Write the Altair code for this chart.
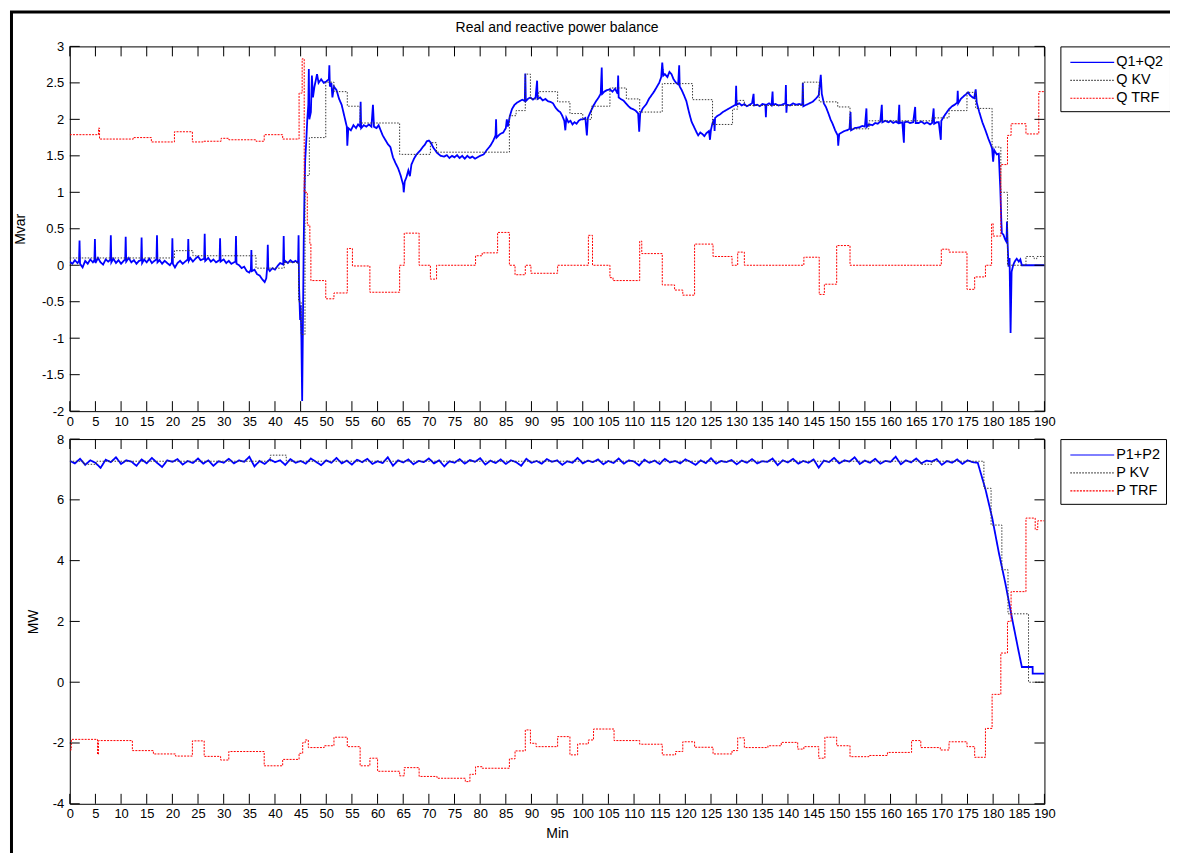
import altair as alt
import pandas as pd

FONT = "Liberation Sans"
W, H = 978, 366

X_TICKS = [0, 5, 10, 15, 20, 25, 30, 35, 40, 45, 50, 55, 60, 65, 70, 75, 80, 85, 90, 95,
           100, 105, 110, 115, 120, 125, 130, 135, 140, 145, 150, 155, 160, 165, 170, 175,
           180, 185, 190]
Q_TICKS = [-2, -1.5, -1, -0.5, 0, 0.5, 1, 1.5, 2, 2.5, 3]
P_TICKS = [-4, -2, 0, 2, 4, 6, 8]

Q_NAMES = ["Q1+Q2", "Q KV", "Q TRF"]
P_NAMES = ["P1+P2", "P KV", "P TRF"]
COLORS = ["#0000ff", "#3a3a3a", "#ff0000"]
DASHES = [[1, 0], [1.5, 1.5], [2, 1.2]]
WIDTHS = [1.8, 1.0, 1.0]

# ---- reactive power (Mvar) ----
Q_SUM = [
    (0, 0.05), (0.5, 0.02), (1.0, 0.07), (1.5, 0.03), (1.8, 0.06), (1.9, 0.34), (2.0, 0.02),
    (2.5, -0.03), (3.0, 0.06), (3.5, 0.02), (4.0, 0.08), (4.5, 0.04), (4.8, 0.07), (4.9, 0.36),
    (5.0, 0.03), (5.5, 0.10), (6.0, 0.04), (6.5, 0.01), (7.0, 0.08), (7.5, 0.05), (7.9, 0.08),
    (8.0, 0.41), (8.1, 0.04), (8.5, 0.09), (9.0, 0.03), (9.5, 0.07), (10.0, 0.02), (10.5, 0.06),
    (10.8, 0.08), (10.9, 0.39), (11.0, 0.05), (11.5, 0.10), (12.0, 0.04), (12.5, 0.07), (13.0, 0.02),
    (13.5, 0.06), (13.9, 0.07), (14.0, 0.38), (14.1, 0.03), (14.5, 0.08), (15.0, 0.04), (15.5, 0.09),
    (16.0, 0.03), (16.5, 0.06), (16.9, 0.08), (17.0, 0.41), (17.1, 0.04), (17.5, 0.07), (18.0, 0.02),
    (18.5, 0.06), (19.0, 0.03), (19.5, 0.0), (19.9, 0.04), (20.0, 0.37), (20.1, 0.02), (20.5, -0.03),
    (21.0, 0.03), (21.5, 0.06), (22.0, 0.02), (22.5, 0.05), (23.0, 0.08), (23.1, 0.36), (23.2, 0.06),
    (23.5, 0.10), (24.0, 0.05), (24.5, 0.09), (25.0, 0.12), (25.5, 0.07), (26.2, 0.09), (26.3, 0.43),
    (26.4, 0.06), (27.0, 0.10), (27.5, 0.05), (28.0, 0.08), (28.5, 0.04), (29.2, 0.07), (29.3, 0.37),
    (29.4, 0.05), (30.0, 0.08), (30.5, 0.03), (31.0, 0.06), (31.5, 0.02), (32.3, 0.05), (32.4, 0.40),
    (32.5, 0.02), (33.0, 0.0), (33.5, -0.04), (34.0, -0.02), (34.5, -0.08), (35.0, -0.10), (35.3, -0.06),
    (35.4, 0.21), (35.5, -0.08), (36.0, -0.06), (36.5, -0.12), (37.0, -0.14), (37.5, -0.19), (38.0, -0.23),
    (38.3, -0.18), (38.5, -0.02), (38.6, 0.28), (38.7, -0.05), (39.0, -0.08), (39.5, -0.04), (40.0, -0.06),
    (40.5, -0.01), (41.0, 0.03), (41.6, 0.01), (41.7, 0.40), (41.8, 0.03), (42.0, 0.06), (42.5, 0.03),
    (43.0, 0.07), (43.5, 0.04), (44.0, 0.06), (44.5, 0.03), (44.6, 0.41), (44.7, -0.30), (44.9, -0.75),
    (45.0, -0.55), (45.15, -1.0), (45.3, -1.86), (45.45, -0.8), (45.6, 0.3), (45.75, 1.0), (45.9, 1.45),
    (46.1, 1.7), (46.3, 2.0), (46.5, 2.2), (46.6, 2.69), (46.7, 2.0), (47.0, 2.1), (47.2, 2.6),
    (47.4, 2.3), (47.7, 2.45), (48.0, 2.55), (48.2, 2.62), (48.5, 2.5), (49.0, 2.55), (49.5, 2.5),
    (50.0, 2.52), (50.5, 2.55), (50.6, 2.74), (50.7, 2.45), (51.0, 2.5), (51.2, 2.3), (51.5, 2.45),
    (52.0, 2.4), (52.5, 2.28), (53.0, 2.2), (53.5, 2.05), (54.0, 1.9), (54.1, 1.64), (54.3, 1.88),
    (54.8, 1.85), (55.3, 1.92), (55.8, 1.88), (56.2, 1.93), (56.6, 1.9), (56.7, 2.24), (56.8, 1.88),
    (57.3, 1.92), (57.8, 1.9), (58.3, 1.93), (58.8, 1.9), (59.1, 2.2), (59.3, 1.9), (59.8, 1.88),
    (60.2, 1.92), (60.6, 1.85), (61.0, 1.78), (61.5, 1.72), (62.0, 1.66), (62.5, 1.62), (63.0, 1.48),
    (63.5, 1.4), (64.0, 1.33), (64.5, 1.23), (65.0, 1.1), (65.1, 1.0), (65.3, 1.15), (65.6, 1.2),
    (66.0, 1.3), (66.3, 1.22), (66.6, 1.38), (67.1, 1.46), (67.6, 1.52), (68.0, 1.55), (68.4, 1.58),
    (68.8, 1.62), (69.2, 1.65), (69.6, 1.7), (70.0, 1.71), (70.4, 1.68), (70.8, 1.62), (71.2, 1.58),
    (71.6, 1.54), (72.3, 1.5), (73.0, 1.49), (73.5, 1.51), (74.0, 1.47), (74.5, 1.5), (75.0, 1.48),
    (75.5, 1.51), (76.0, 1.47), (76.5, 1.5), (77.0, 1.46), (77.5, 1.5), (78.0, 1.47), (78.5, 1.49),
    (79.0, 1.46), (79.5, 1.48), (80.0, 1.5), (80.7, 1.52), (81.3, 1.58), (82.0, 1.64), (82.5, 1.7),
    (83.0, 1.78), (83.1, 2.0), (83.2, 1.75), (83.9, 1.8), (84.5, 1.82), (85.0, 1.88), (85.2, 2.0),
    (85.4, 1.9), (85.8, 2.05), (86.2, 2.14), (86.7, 2.2), (87.2, 2.23), (87.7, 2.25), (88.2, 2.27),
    (88.7, 2.25), (88.8, 2.63), (88.9, 2.25), (89.3, 2.28), (89.8, 2.3), (90.3, 2.27), (90.8, 2.3),
    (91.1, 2.53), (91.2, 2.28), (91.7, 2.3), (92.2, 2.26), (92.7, 2.28), (93.2, 2.25), (93.7, 2.24),
    (94.2, 2.22), (94.7, 2.16), (95.2, 2.12), (95.6, 2.1), (96.0, 2.05), (96.4, 1.98), (96.6, 1.85),
    (96.8, 2.02), (97.2, 1.96), (97.6, 1.98), (98.0, 1.93), (98.4, 1.96), (98.8, 1.94), (99.2, 1.98),
    (99.6, 2.0), (100.0, 2.0), (100.5, 2.02), (100.8, 1.78), (101.0, 2.02), (101.5, 2.1), (102.1, 2.19),
    (102.6, 2.25), (103.1, 2.3), (103.5, 2.35), (103.7, 2.71), (103.8, 2.35), (104.2, 2.38), (104.7, 2.4),
    (105.3, 2.41), (105.8, 2.38), (106.3, 2.42), (106.8, 2.35), (106.9, 2.6), (107.0, 2.3), (107.4, 2.28),
    (107.9, 2.26), (108.4, 2.22), (108.9, 2.18), (109.4, 2.15), (109.8, 2.14), (110.3, 2.12), (110.8, 2.08),
    (111.0, 1.83), (111.2, 2.08), (111.7, 2.15), (112.4, 2.21), (112.9, 2.28), (113.4, 2.33), (113.9, 2.38),
    (114.4, 2.44), (114.9, 2.5), (115.3, 2.58), (115.5, 2.78), (115.7, 2.6), (116.0, 2.62), (116.5, 2.58),
    (116.9, 2.65), (117.3, 2.62), (117.7, 2.55), (118.2, 2.5), (118.6, 2.48), (118.8, 2.74), (118.9, 2.45),
    (119.3, 2.4), (119.8, 2.32), (120.2, 2.25), (120.7, 2.1), (121.2, 1.97), (121.8, 1.88), (122.2, 1.82),
    (122.5, 1.78), (122.9, 1.82), (123.3, 1.8), (123.7, 1.77), (124.1, 1.81), (124.6, 1.84), (124.8, 1.72),
    (125.0, 1.86), (125.3, 1.95), (125.6, 2.0), (125.7, 1.84), (125.8, 2.02), (126.3, 2.05), (126.8, 2.07),
    (127.3, 2.1), (127.8, 2.12), (128.3, 2.14), (128.8, 2.16), (129.3, 2.18), (129.8, 2.2), (129.9, 2.46),
    (130.0, 2.2), (130.5, 2.22), (131.0, 2.19), (131.5, 2.21), (132.0, 2.18), (132.5, 2.2), (133.0, 2.22),
    (133.3, 2.35), (133.4, 2.19), (134.0, 2.2), (134.5, 2.18), (135.0, 2.21), (135.6, 2.2), (135.7, 2.03),
    (135.8, 2.2), (136.3, 2.22), (136.8, 2.19), (137.0, 2.38), (137.1, 2.2), (137.6, 2.21), (138.2, 2.19),
    (138.8, 2.2), (139.5, 2.22), (139.6, 2.47), (139.7, 2.09), (139.8, 2.2), (140.4, 2.19), (141.0, 2.22),
    (141.6, 2.2), (142.2, 2.21), (142.8, 2.2), (142.9, 2.5), (143.0, 2.18), (143.6, 2.2), (144.2, 2.22),
    (144.8, 2.24), (145.4, 2.28), (146.0, 2.33), (146.4, 2.61), (146.6, 2.35), (147.0, 2.22), (147.4, 2.17),
    (147.9, 2.08), (148.3, 2.0), (148.7, 1.94), (149.2, 1.85), (149.7, 1.78), (149.8, 1.64), (150.0, 1.8),
    (150.5, 1.82), (151.0, 1.84), (151.5, 1.85), (152.0, 1.87), (152.2, 2.1), (152.3, 1.85), (153.0, 1.88),
    (153.9, 1.89), (154.5, 1.91), (155.0, 1.9), (155.3, 2.15), (155.4, 1.9), (155.8, 1.93), (156.5, 1.92),
    (157.0, 1.95), (157.5, 1.94), (158.0, 1.97), (158.3, 2.2), (158.4, 1.96), (159.0, 1.98), (159.6, 1.96),
    (160.0, 1.98), (160.5, 1.95), (161.0, 1.97), (161.5, 1.95), (161.7, 2.2), (161.8, 1.95), (162.3, 1.96),
    (162.6, 1.68), (162.7, 1.96), (163.2, 1.97), (163.8, 1.95), (164.4, 1.96), (164.8, 2.17), (164.9, 1.95),
    (165.5, 1.95), (166.0, 1.97), (166.6, 1.94), (167.1, 1.96), (167.7, 1.93), (168.1, 1.95), (168.4, 2.15),
    (168.5, 1.94), (169.0, 1.96), (169.4, 1.96), (169.8, 1.72), (169.9, 1.98), (170.4, 2.04), (171.0, 2.1),
    (171.4, 2.14), (172.0, 2.18), (172.5, 2.2), (173.0, 2.23), (173.1, 2.39), (173.2, 2.22), (173.7, 2.28),
    (174.3, 2.32), (174.8, 2.35), (175.1, 2.37), (175.5, 2.33), (176.0, 2.3), (176.3, 2.29), (176.6, 2.41),
    (176.8, 2.23), (177.3, 2.1), (177.9, 1.96), (178.5, 1.85), (179.1, 1.73), (179.5, 1.66), (179.8, 1.6),
    (180.0, 1.42), (180.2, 1.58), (180.7, 1.52), (181.1, 1.53), (181.4, 1.04), (181.6, 0.6), (181.7, 0.44),
    (182.0, 0.42), (182.3, 0.36), (182.6, 0.32), (182.7, 0.6), (182.8, 0.35), (183.0, -0.02), (183.2, 0.1),
    (183.4, -0.93), (183.6, -0.09), (183.9, 0.0), (184.2, 0.05), (184.6, 0.09), (185.0, 0.05), (185.3, 0.08),
    (185.6, 0.0), (190.0, 0.0),
]

Q_KV = [
    (0, 0.10), (20.4, 0.20), (24.0, 0.13), (36.3, -0.04), (41.8, 0.04), (44.6, -0.5), (45.1, -0.95),
    (45.85, 1.23), (46.7, 1.75), (49.9, 2.51), (51.5, 2.38), (54.1, 2.18), (56.6, 1.95), (64.3, 1.52),
    (70.3, 1.68), (71.5, 1.55), (85.7, 2.05), (87.0, 2.12), (88.8, 2.62), (89.8, 2.28), (91.4, 2.38),
    (95.1, 2.24), (97.5, 2.08), (100.0, 2.0), (101.7, 2.18), (105.3, 2.43), (108.5, 2.28), (111.1, 2.10),
    (115.5, 2.49), (121.4, 2.27), (125.3, 1.93), (129.2, 2.14), (130.2, 2.26), (131.5, 2.19),
    (142.9, 2.51), (146.1, 2.24), (149.7, 2.17), (152.1, 1.87), (155.8, 1.98), (168.1, 2.02),
    (171.4, 2.12), (174.9, 2.37), (176.6, 2.15), (179.8, 1.62), (181.5, 1.0), (182.8, 0.0),
    (186.4, 0.12), (188.0, 0.09), (188.5, 0.12), (190.0, 0.12),
]

Q_TRF = [
    (0, 1.79), (5.6, 1.88), (5.8, 1.73), (12.4, 1.75), (15.9, 1.69), (20.4, 1.83), (23.9, 1.69),
    (26.0, 1.70), (29.5, 1.74), (31.0, 1.72), (36.3, 1.70), (37.9, 1.79), (41.5, 1.73), (44.7, 2.36),
    (45.3, 2.83), (45.7, 1.0), (46.3, 0.55), (46.8, 0.3), (47.0, -0.21), (49.9, -0.46), (51.5, -0.38),
    (54.1, 0.23), (55.1, -0.01), (58.5, -0.37), (64.3, 0.0), (65.2, 0.44), (68.1, 0.0), (70.3, -0.19),
    (71.5, 0.0), (79.1, 0.13), (80.4, 0.17), (83.4, 0.45), (85.7, 0.0), (86.8, -0.13), (88.8, 0.0),
    (89.9, -0.11), (95.1, 0.0), (101.1, 0.41), (101.9, 0.0), (105.3, -0.17), (105.9, -0.21),
    (111.1, 0.33), (111.5, 0.16), (115.5, -0.27), (117.9, -0.34), (119.5, -0.41), (121.8, 0.29),
    (125.4, 0.12), (129.1, 0.0), (130.2, 0.18), (131.5, 0.0), (143.1, 0.11), (146.1, -0.40),
    (147.1, -0.26), (149.5, 0.27), (152.1, 0.0), (169.9, 0.22), (171.4, 0.18), (174.9, -0.33),
    (176.4, -0.16), (178.5, 0.0), (179.7, 0.57), (180.0, 0.40), (181.5, 1.38), (182.8, 1.78),
    (183.5, 1.94), (186.4, 1.80), (188.9, 2.38), (190.0, 2.38),
]

# ---- real power (MW) ----
P_SUM_FLAT = [
    7.28, 7.20, 7.35, 7.15, 7.30, 7.22, 7.05, 7.32, 7.24, 7.40, 7.18, 7.30, 7.26, 7.12, 7.33, 7.20,
    7.38, 7.22, 7.08, 7.30, 7.25, 7.34, 7.16, 7.28, 7.21, 7.36, 7.19, 7.30, 7.12, 7.27, 7.22, 7.35,
    7.20, 7.30, 7.25, 7.42, 7.10, 7.28, 7.18, 7.33, 7.24, 7.30, 7.15, 7.34, 7.22, 7.28, 7.19, 7.36,
    7.25, 7.14, 7.30, 7.22, 7.38, 7.20, 7.29, 7.16, 7.32, 7.24, 7.35, 7.18, 7.27, 7.21, 7.40, 7.12,
    7.30, 7.23, 7.33, 7.17, 7.28, 7.24, 7.36, 7.20, 7.30, 7.10, 7.27, 7.22, 7.34, 7.19, 7.31, 7.25,
    7.37, 7.16, 7.29, 7.21, 7.33, 7.18, 7.30, 7.24, 7.12, 7.35, 7.22, 7.28, 7.19, 7.34, 7.25, 7.30,
    7.15, 7.27, 7.22, 7.38, 7.20, 7.29, 7.24, 7.33, 7.17, 7.28, 7.21, 7.36, 7.19, 7.30, 7.26, 7.13,
    7.32, 7.22, 7.29, 7.18, 7.35, 7.23, 7.28, 7.20, 7.33, 7.25, 7.15, 7.30, 7.21, 7.37, 7.19, 7.28,
    7.24, 7.31, 7.17, 7.29, 7.22, 7.34, 7.20, 7.27, 7.25, 7.36, 7.14, 7.30, 7.23, 7.35, 7.19, 7.28,
    7.22, 7.33, 7.06, 7.29, 7.24, 7.38, 7.20, 7.30, 7.26, 7.40, 7.18, 7.29, 7.22, 7.35, 7.19, 7.28,
    7.25, 7.42, 7.17, 7.30, 7.23, 7.36, 7.20, 7.29, 7.26, 7.34, 7.15, 7.28, 7.22, 7.33, 7.18, 7.30,
    7.24, 7.22,
]
P_SUM_TAIL = [
    (178.5, 6.35), (179.8, 5.42), (181.1, 4.27), (182.4, 3.24), (183.7, 2.09), (185.0, 0.99),
    (185.6, 0.5), (187.7, 0.5), (187.71, 0.28), (190.0, 0.28),
]
P_SUM = [(float(i), v) for i, v in enumerate(P_SUM_FLAT)] + P_SUM_TAIL

P_KV = [
    (0, 7.27), (2.7, 7.17), (5.2, 7.27), (39.1, 7.47), (42.2, 7.27), (165.9, 7.17), (168.1, 7.27),
    (178.2, 6.38), (179.6, 5.17), (181.7, 3.70), (182.9, 2.25), (186.9, 0.0), (190.0, 0.0),
]

P_TRF = [
    (0, -2.23), (0.3, -1.88), (5.4, -2.37), (5.6, -1.92), (12.2, -2.25), (16.3, -2.36), (20.6, -2.43),
    (23.9, -1.93), (26.2, -2.44), (29.4, -2.56), (31.0, -2.28), (37.9, -2.75), (41.5, -2.54),
    (44.7, -2.34), (45.4, -1.99), (45.9, -1.90), (46.5, -2.15), (49.6, -2.09), (51.5, -1.81),
    (54.1, -2.12), (56.6, -2.75), (58.5, -2.50), (60.0, -2.93), (64.3, -3.08), (65.2, -2.81),
    (68.1, -3.10), (71.6, -3.16), (77.1, -3.27), (78.0, -3.03), (79.1, -2.78), (80.4, -2.83),
    (85.7, -2.52), (86.8, -2.26), (88.8, -1.57), (89.8, -2.01), (90.9, -2.12), (95.1, -1.79),
    (97.5, -2.39), (99.0, -2.03), (101.1, -1.90), (102.1, -1.54), (106.1, -1.92), (111.1, -2.04),
    (115.5, -2.39), (118.1, -2.28), (119.5, -1.96), (121.8, -2.14), (125.4, -2.36), (129.1, -2.25),
    (130.2, -1.83), (131.5, -2.15), (136.1, -2.09), (138.7, -1.98), (141.9, -2.20), (143.1, -2.12),
    (146.0, -2.50), (147.2, -1.81), (149.5, -2.09), (152.1, -2.45), (155.8, -2.41), (159.4, -2.31),
    (164.1, -1.92), (165.9, -2.15), (169.7, -2.23), (171.4, -1.96), (174.9, -2.12), (176.4, -2.47),
    (178.5, -1.52), (179.8, -0.40), (181.5, 0.96), (182.8, 2.00), (183.5, 2.98), (186.4, 5.40),
    (188.2, 5.02), (188.7, 5.31), (190.0, 5.31),
]


def panel(names, series, ydom, yticks, ytitle, xtitle, ytitle_pad, title=None, frame=False):
    xs = alt.Scale(domain=[0, 190], nice=False, zero=False)
    ys = alt.Scale(domain=ydom, nice=False, zero=False)
    xaxis = alt.Axis(values=X_TICKS, labelExpr="datum.value + ''", ticks=False, domain=False,
                     grid=False, labelOverlap=False, labelFlush=False, labelPadding=4,
                     title=xtitle, titlePadding=6)
    yaxis = alt.Axis(values=yticks, labelExpr="datum.value + ''", ticks=False, domain=False,
                     grid=False, labelOverlap=False, labelFlush=False, labelPadding=6,
                     title=ytitle, titlePadding=ytitle_pad)
    xenc = alt.X("t:Q", scale=xs, axis=xaxis)
    yenc = alt.Y("v:Q", scale=ys, axis=yaxis)
    leg = alt.Legend(title=None, orient="none", legendX=W + 16, legendY=0, direction="vertical",
                     fillColor="white", strokeColor="black", padding=6,
                     symbolType="M-2.444,0H2.444", symbolSize=324, symbolOffset=16,
                     symbolStrokeWidth=1.2, labelOffset=14, labelFont=FONT, labelFontSize=14.5,
                     labelColor="black", labelLimit=200, rowPadding=1)
    color = alt.Color("s:N", scale=alt.Scale(domain=names, range=COLORS), legend=leg)
    dash = alt.StrokeDash("s:N", scale=alt.Scale(domain=names, range=DASHES), legend=leg)

    layers = []
    for i, (name, pts, step) in enumerate(series):
        df = pd.DataFrame({"t": [p[0] for p in pts], "v": [p[1] for p in pts], "s": name})
        layers.append(
            alt.Chart(df).mark_line(strokeWidth=WIDTHS[i],
                                    interpolate="step-after" if step else "linear",
                                    clip=True)
            .encode(x=xenc, y=yenc, color=color, strokeDash=dash)
        )

    xt = alt.Chart(pd.DataFrame({"t": X_TICKS})).mark_rule(color="black", strokeWidth=1)
    yt = alt.Chart(pd.DataFrame({"v": yticks})).mark_rule(color="black", strokeWidth=1)
    layers += [
        xt.encode(x=xenc, y=alt.value(H), y2=alt.value(H - 10)),
        xt.encode(x=xenc, y=alt.value(0), y2=alt.value(10)),
        yt.encode(y=yenc, x=alt.value(0), x2=alt.value(10)),
        yt.encode(y=yenc, x=alt.value(W), x2=alt.value(W - 10)),
    ]
    if frame:
        # outer figure frame (drawn from the lower panel so the title is unaffected)
        fr = alt.Chart(pd.DataFrame({"k": [0]})).mark_rule(color="black", strokeWidth=3)
        layers += [
            fr.encode(x=alt.value(-58.5), y=alt.value(-428.5), y2=alt.value(460)),
            fr.encode(y=alt.value(-428.5), x=alt.value(-60), x2=alt.value(1110)),
        ]
    props = dict(width=W, height=H)
    if title:
        props["title"] = alt.Title(title, fontSize=14, font=FONT, fontWeight="normal",
                                   color="black", anchor="middle", frame="group", offset=5)
    return alt.layer(*layers).properties(**props)


top = panel(Q_NAMES,
            [(Q_NAMES[0], Q_SUM, False), (Q_NAMES[1], Q_KV, True), (Q_NAMES[2], Q_TRF, True)],
            [-2, 3], Q_TICKS, "Mvar", None, 14, title="Real and reactive power balance")
bottom = panel(P_NAMES,
               [(P_NAMES[0], P_SUM, False), (P_NAMES[1], P_KV, True), (P_NAMES[2], P_TRF, True)],
               [-4, 8], P_TICKS, "MW", "Min", 12, frame=True)

chart = (
    alt.vconcat(top, bottom, spacing=28, bounds="flush")
    .resolve_scale(color="independent", strokeDash="independent")
    .properties(padding={"left": 0, "top": 0, "right": -8, "bottom": 0}, background="white")
    .configure_view(stroke="black", strokeWidth=1)
    .configure_axis(labelFont=FONT, labelFontSize=13, labelColor="black",
                    titleFont=FONT, titleFontSize=14, titleFontWeight="normal", titleColor="black")
)

chart.save("out.html", embed_options={"renderer": "svg", "actions": False})
